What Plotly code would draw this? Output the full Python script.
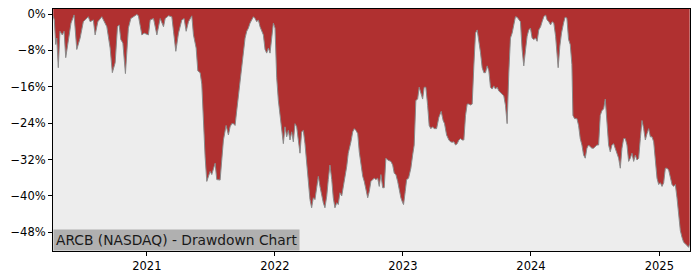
import datetime as dt
import plotly.graph_objects as go

years = [
    2020.271, 2020.279, 2020.290, 2020.298, 2020.310, 2020.323, 2020.341, 2020.355, 2020.368, 2020.388,
    2020.409, 2020.433, 2020.454, 2020.480, 2020.505, 2020.544, 2020.558, 2020.583, 2020.597, 2020.618,
    2020.649, 2020.688, 2020.714, 2020.731, 2020.753, 2020.771, 2020.784, 2020.797, 2020.813, 2020.833,
    2020.844, 2020.856, 2020.875, 2020.895, 2020.922, 2020.934, 2020.961, 2020.979, 2021.012, 2021.026,
    2021.052, 2021.078, 2021.091, 2021.104, 2021.130, 2021.143, 2021.169, 2021.195, 2021.208, 2021.226,
    2021.247, 2021.273, 2021.291, 2021.307, 2021.325, 2021.351, 2021.364, 2021.385, 2021.398, 2021.416,
    2021.429, 2021.442, 2021.455, 2021.468, 2021.481, 2021.494, 2021.507, 2021.520, 2021.533, 2021.546,
    2021.559, 2021.572, 2021.585, 2021.598, 2021.619, 2021.637, 2021.650, 2021.663, 2021.676, 2021.689,
    2021.702, 2021.723, 2021.741, 2021.767, 2021.780, 2021.793, 2021.806, 2021.832, 2021.845, 2021.858,
    2021.871, 2021.884, 2021.910, 2021.923, 2021.936, 2021.949, 2021.962, 2021.975, 2021.988, 2022.001,
    2022.014, 2022.027, 2022.040, 2022.053, 2022.066, 2022.079, 2022.092, 2022.105, 2022.118, 2022.131,
    2022.144, 2022.157, 2022.170, 2022.183, 2022.196, 2022.209, 2022.222, 2022.235, 2022.248, 2022.261,
    2022.274, 2022.287, 2022.300, 2022.313, 2022.327, 2022.339, 2022.352, 2022.366, 2022.378, 2022.391,
    2022.405, 2022.417, 2022.430, 2022.444, 2022.456, 2022.469, 2022.483, 2022.495, 2022.508, 2022.522,
    2022.534, 2022.547, 2022.561, 2022.573, 2022.586, 2022.594, 2022.608, 2022.620, 2022.633, 2022.647,
    2022.659, 2022.672, 2022.686, 2022.698, 2022.711, 2022.725, 2022.737, 2022.750, 2022.764, 2022.776,
    2022.789, 2022.803, 2022.815, 2022.828, 2022.842, 2022.854, 2022.867, 2022.881, 2022.906, 2022.920,
    2022.932, 2022.945, 2022.959, 2022.971, 2022.984, 2022.998, 2023.005, 2023.018, 2023.029, 2023.044,
    2023.062, 2023.076, 2023.088, 2023.101, 2023.115, 2023.127, 2023.140, 2023.154, 2023.166, 2023.179,
    2023.193, 2023.205, 2023.218, 2023.232, 2023.244, 2023.263, 2023.281, 2023.299, 2023.314, 2023.325,
    2023.341, 2023.359, 2023.372, 2023.385, 2023.398, 2023.411, 2023.424, 2023.437, 2023.450, 2023.463,
    2023.476, 2023.489, 2023.502, 2023.515, 2023.528, 2023.541, 2023.554, 2023.567, 2023.580, 2023.593,
    2023.606, 2023.619, 2023.632, 2023.645, 2023.658, 2023.671, 2023.684, 2023.697, 2023.710, 2023.723,
    2023.736, 2023.749, 2023.762, 2023.775, 2023.788, 2023.801, 2023.814, 2023.827, 2023.840, 2023.853,
    2023.866, 2023.879, 2023.892, 2023.905, 2023.918, 2023.931, 2023.944, 2023.958, 2023.970, 2023.983,
    2023.996, 2024.009, 2024.022, 2024.036, 2024.048, 2024.061, 2024.075, 2024.087, 2024.100, 2024.114,
    2024.126, 2024.139, 2024.153, 2024.165, 2024.178, 2024.192, 2024.204, 2024.212, 2024.225, 2024.238,
    2024.254, 2024.266, 2024.280, 2024.293, 2024.306, 2024.319, 2024.327, 2024.340, 2024.358, 2024.371,
    2024.384, 2024.397, 2024.410, 2024.423, 2024.436, 2024.449, 2024.462, 2024.475, 2024.488, 2024.501,
    2024.514, 2024.527, 2024.540, 2024.553, 2024.566, 2024.579, 2024.592, 2024.605, 2024.618, 2024.631,
    2024.644, 2024.657, 2024.670, 2024.683, 2024.696, 2024.709, 2024.722, 2024.735, 2024.748, 2024.761,
    2024.774, 2024.787, 2024.800, 2024.813, 2024.826, 2024.839, 2024.852, 2024.865, 2024.878, 2024.891,
    2024.904, 2024.917, 2024.930, 2024.943, 2024.956, 2024.969, 2024.982, 2024.995, 2025.008, 2025.021,
    2025.034, 2025.047, 2025.060, 2025.073, 2025.086, 2025.099, 2025.112, 2025.125, 2025.138, 2025.151,
    2025.164, 2025.177, 2025.190, 2025.203, 2025.216, 2025.229, 2025.237,
]
drawdown = [
    -0.5, -1.3, -6.7, -5.3, -11.8, -3.8, -4.6, -3.8, -9.6, -5.3,
    -2.0, -0.2, -7.8, -5.3, -1.7, -0.6, -1.7, -1.3, -4.6, -1.7,
    -0.6, -2.8, -7.5, -12.9, -10.7, -2.8, -2.4, -5.6, -6.4, -13.1,
    -6.7, -3.1, -1.0, -0.6, -0.1, -0.4, -4.6, -4.2, -4.6, -1.3,
    -1.0, -4.6, -2.4, -1.0, -2.8, -1.0, -0.4, -0.6, -3.8, -8.2,
    -4.2, -1.3, -1.0, -3.8, -1.7, -0.4, -4.6, -7.5, -12.5, -12.9,
    -15.4, -24.0, -31.4, -36.8, -35.7, -34.6, -35.3, -33.9, -32.8, -36.4,
    -36.4, -36.5, -32.1, -27.7, -24.5, -26.6, -24.8, -24.1, -24.1, -24.5,
    -21.2, -16.2, -11.8, -5.3, -3.8, -3.1, -2.0, -0.6, -1.0, -1.7,
    -1.3, -2.8, -4.6, -7.8, -8.6, -7.5, -8.6, -4.6, -2.0, -3.1,
    -14.0, -19.0, -22.7, -24.8, -28.5, -24.8, -27.0, -25.6, -27.7, -25.9,
    -28.1, -24.1, -24.8, -27.7, -30.6, -25.9, -25.6, -28.5, -32.8, -37.5,
    -40.8, -42.6, -40.4, -40.8, -37.9, -35.7, -37.9, -40.0, -41.5, -42.6,
    -40.0, -36.4, -33.2, -36.4, -40.4, -42.6, -41.5, -41.9, -39.3, -40.0,
    -37.9, -36.4, -33.5, -30.6, -29.2, -28.1, -25.9, -25.2, -25.6, -26.3,
    -30.3, -33.2, -35.7, -36.8, -38.6, -40.4, -39.0, -36.8, -36.4, -36.1,
    -36.4, -36.1, -37.9, -35.3, -38.2, -38.2, -31.7, -32.1, -32.4, -33.2,
    -35.0, -35.3, -36.8, -39.0, -40.4, -41.5, -41.9, -39.0, -36.4, -36.1,
    -33.9, -31.0, -28.8, -19.0, -18.7, -16.1, -17.6, -18.7, -16.1, -16.1,
    -20.1, -24.5, -25.2, -24.8, -25.2, -25.2, -22.7, -21.4, -23.4, -24.1,
    -26.6, -27.7, -28.1, -28.2, -28.1, -28.8, -28.5, -27.7, -27.4, -27.7,
    -27.7, -22.3, -19.8, -19.8, -20.0, -19.8, -11.4, -4.2, -3.5, -5.6,
    -8.5, -11.8, -12.9, -12.9, -11.4, -12.5, -16.1, -16.5, -15.8, -16.5,
    -16.1, -16.9, -17.2, -17.6, -18.0, -20.1, -24.1, -12.9, -5.3, -4.2,
    -2.0, -0.6, -0.7, -1.3, -1.7, -7.8, -11.4, -7.8, -4.9, -3.5,
    -3.1, -5.3, -5.6, -5.3, -6.0, -3.5, -2.8, -1.7, -0.6, -0.2,
    -1.3, -1.7, -2.4, -1.7, -2.0, -4.9, -8.5, -11.8, -7.1, -4.2,
    -2.0, -0.7, -0.9, -5.6, -6.7, -11.1, -22.3, -23.0, -23.0, -24.5,
    -27.4, -28.8, -31.0, -31.7, -29.5, -28.8, -29.2, -29.5, -29.5, -29.2,
    -28.8, -28.8, -22.3, -21.2, -20.9, -18.7, -25.2, -28.8, -30.3, -28.8,
    -28.5, -29.5, -30.3, -31.7, -33.9, -29.5, -27.4, -27.4, -28.8, -32.4,
    -31.7, -30.6, -32.4, -31.0, -32.1, -31.7, -27.4, -23.4, -25.2, -27.7,
    -26.3, -25.2, -27.0, -27.0, -28.1, -31.7, -36.1, -37.5, -37.1, -37.9,
    -37.1, -33.9, -33.9, -34.3, -36.1, -37.5, -37.9, -37.5, -40.4, -44.0,
    -47.6, -49.1, -50.2, -50.5, -50.9, -51.3, -50.5,
]
tick_years = [2021, 2022, 2023, 2024, 2025]
y_ticks = [0, -8, -16, -24, -32, -40, -48]
y_tick_labels = ["0%", "\u22128%", "\u221216%", "\u221224%", "\u221232%", "\u221240%", "\u221248%"]
x_limits = [2020.2688, 2025.2396]
y_limits = [-52.1, 1.1]
title_text = "ARCB (NASDAQ) - Drawdown Chart"


def to_date(y):
    yr = int(y)
    start = dt.datetime(yr, 1, 1)
    end = dt.datetime(yr + 1, 1, 1)
    return start + (end - start) * (y - yr)


dates = [to_date(v) for v in years]
top = [y_limits[1] + 5] * len(dates)

fig = go.Figure()
fig.add_trace(go.Scatter(x=dates, y=top, mode="lines", line=dict(width=0, color="rgba(0,0,0,0)"),
                         hoverinfo="skip", showlegend=False))
fig.add_trace(go.Scatter(x=dates, y=drawdown, mode="lines", fill="tonexty",
                         fillcolor="#B03030", line=dict(color="#8a8a8a", width=1),
                         showlegend=False))

font_family = "DejaVu Sans"
fig.update_layout(
    width=700, height=280,
    margin=dict(l=53, r=10, t=7, b=28),
    paper_bgcolor="white",
    plot_bgcolor="#EDEDED",
    font=dict(family=font_family, size=11.5, color="black"),
    xaxis=dict(
        type="date",
        range=[to_date(x_limits[0]), to_date(x_limits[1])],
        tickvals=[dt.datetime(y, 1, 1) for y in tick_years],
        ticktext=[str(y) for y in tick_years],
        showgrid=False, zeroline=False,
        showline=True, linecolor="black", linewidth=1, mirror=True,
        ticks="outside", ticklen=4, tickcolor="black",
    ),
    yaxis=dict(
        range=y_limits,
        tickvals=y_ticks, ticktext=y_tick_labels,
        showgrid=False, zeroline=False,
        showline=True, linecolor="black", linewidth=1, mirror=True,
        ticks="outside", ticklen=4, tickcolor="black",
    ),
    annotations=[dict(
        text=title_text, xref="paper", yref="paper", x=0, y=0,
        xanchor="left", yanchor="bottom", showarrow=False,
        bgcolor="#B0B0B0", borderpad=2,
        font=dict(family=font_family, size=13.8, color="#1a1a1a"),
    )],
)

fig.write_html("out.html")
